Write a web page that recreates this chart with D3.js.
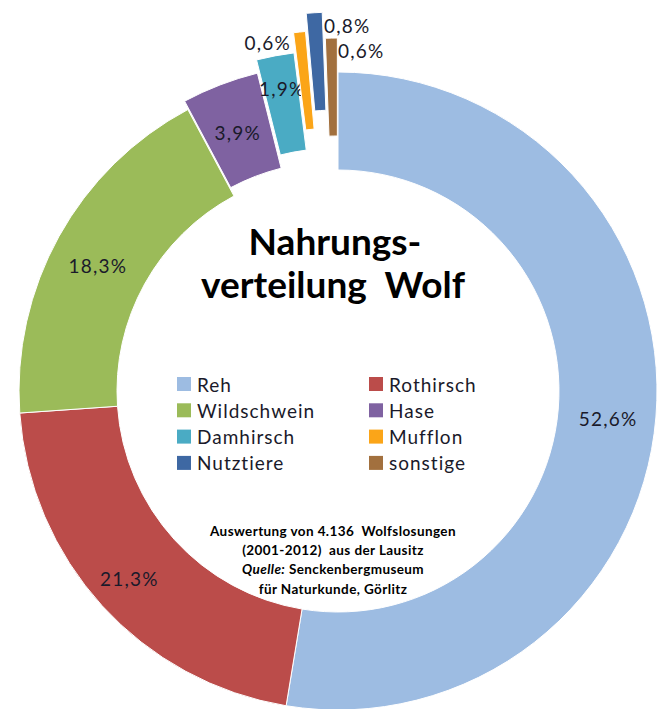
<!DOCTYPE html>
<html>
<head>
<meta charset="utf-8">
<script src="https://d3js.org/d3.v7.min.js"></script>
<style>
  body { margin: 0; background: #fff; }
  text { font-family: Lato, "Open Sans", sans-serif; }
</style>
</head>
<body>
<script>
  // data
  const categories = ['Reh', 'Rothirsch', 'Wildschwein', 'Hase', 'Damhirsch', 'Mufflon', 'Nutztiere', 'sonstige'];
  const shares = [52.6, 21.3, 18.3, 3.9, 1.9, 0.6, 0.8, 0.6];
  const colors = ['#9dbce2', '#bb4c4a', '#9bbb59', '#7f62a1', '#4aabc4', '#fba518', '#3e68a3', '#a2703e'];

  // layout: how far each slice is pulled out, and nudges for the labels
  const explode = [0, 0, 0, 9, 22, 42, 60, 34];
  const labelNudge = [[1, 5], [-9, 6], [-4, 5], [0, 2], [-2, -16], [-37, -38], [30, -36], [29, -37]];

  const width = 663, height = 709;
  const cx = 338, cy = 391;
  const outerR = 319, innerR = 221;

  const svg = d3.select('body').append('svg')
    .attr('width', width)
    .attr('height', height);

  const rows = categories.map((c, i) => ({ name: c, value: shares[i], i }));

  const pie = d3.pie()
    .sort(null)
    .value(d => d.value);

  const arc = d3.arc()
    .innerRadius(innerR)
    .outerRadius(outerR);

  const fmt = v => d3.format('.1f')(v).replace('.', ',') + '%';

  const g = svg.append('g').attr('transform', `translate(${cx},${cy})`);

  const slices = g.selectAll('g.slice')
    .data(pie(rows))
    .join('g')
    .attr('class', 'slice')
    .attr('transform', d => {
      const a = (d.startAngle + d.endAngle) / 2;
      const off = explode[d.data.i];
      return `translate(${off * Math.sin(a)},${-off * Math.cos(a)})`;
    });

  slices.append('path')
    .attr('d', arc)
    .attr('fill', d => colors[d.data.i])
    .attr('stroke', '#fff')
    .attr('stroke-width', 1);

  slices.append('text')
    .attr('transform', d => {
      const c = arc.centroid(d);
      const n = labelNudge[d.data.i];
      return `translate(${c[0] + n[0]},${c[1] + n[1]})`;
    })
    .attr('text-anchor', 'middle')
    .attr('dominant-baseline', 'central')
    .attr('font-size', 19)
    .attr('letter-spacing', 1.2)
    .attr('fill', '#1a1a2a')
    .text(d => fmt(d.data.value));

  // title
  const title = svg.append('g')
    .attr('font-weight', 'bold')
    .attr('font-size', 37)
    .attr('text-anchor', 'middle')
    .attr('fill', '#000');
  title.append('text').attr('x', 335).attr('y', 255).text('Nahrungs-');
  title.append('text').attr('x', 333).attr('y', 298).attr('xml:space', 'preserve').text('verteilung  Wolf');

  // legend
  const legend = svg.append('g');
  const item = legend.selectAll('g')
    .data(rows)
    .join('g')
    .attr('transform', d => `translate(${d.i % 2 === 0 ? 177 : 369},${384 + Math.floor(d.i / 2) * 26.3})`);
  item.append('rect')
    .attr('x', 0).attr('y', -7)
    .attr('width', 14).attr('height', 14)
    .attr('fill', d => colors[d.i]);
  item.append('text')
    .attr('x', 20)
    .attr('dominant-baseline', 'central')
    .attr('font-size', 19)
    .attr('letter-spacing', 1)
    .attr('fill', '#1a1a2a')
    .text(d => d.name);

  // source note
  const note = svg.append('g')
    .attr('font-size', 13.5)
    .attr('letter-spacing', 0.4)
    .attr('font-weight', 'bold')
    .attr('text-anchor', 'middle')
    .attr('fill', '#000');
  note.append('text').attr('x', 333).attr('y', 536).attr('xml:space', 'preserve').text('Auswertung von 4.136  Wolfslosungen');
  note.append('text').attr('x', 333).attr('y', 555).attr('xml:space', 'preserve').text('(2001-2012)  aus der Lausitz');
  const q = note.append('text').attr('x', 333).attr('y', 574);
  q.append('tspan').attr('font-style', 'italic').text('Quelle:');
  q.append('tspan').text(' Senckenbergmuseum');
  note.append('text').attr('x', 333).attr('y', 594).text('für Naturkunde, Görlitz');
</script>
</body>
</html>
